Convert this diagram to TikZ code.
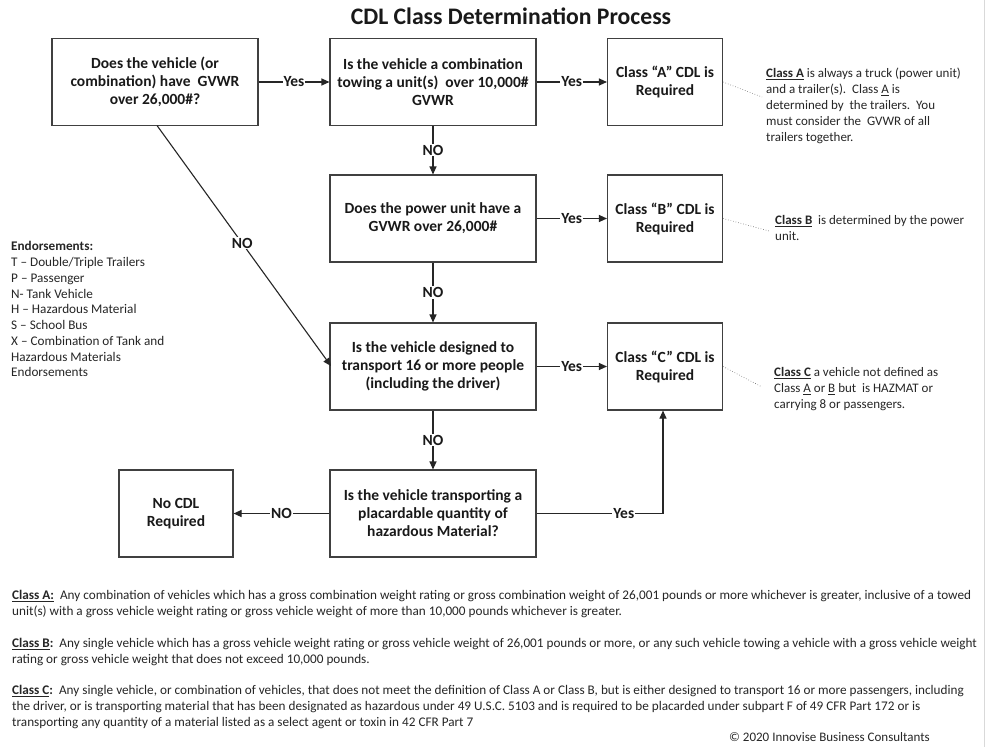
\documentclass[tikz,border=0pt]{standalone}
\usepackage{fontspec}
\setmainfont{Carlito}
\usetikzlibrary{arrows.meta}
\newcommand{\bxfont}{\bfseries\fontsize{15.5}{18}\selectfont}
\newcommand{\lbfont}{\bfseries\fontsize{15.5}{17}\selectfont}
\begin{document}
\begin{tikzpicture}[x=1pt,y=-1pt,
  box/.style={draw=black!75, line width=1.1pt, align=center, inner sep=0pt,
    font=\bxfont, text=black!90,
    minimum width=206pt, minimum height=87pt},
  sbox/.style={box, minimum width=115pt},
  conn/.style={line width=1.1pt, draw=black!85},
  arr/.style={conn, -{Triangle[length=8pt,width=7pt]}},
  lbl/.style={fill=white, inner sep=1pt, font=\lbfont, text=black!90},
  note/.style={align=left, anchor=north west, inner sep=0pt, font=\fontsize{13}{16}\selectfont, text=black!85},
  dots/.style={dotted, draw=black!60, line width=0.6pt},
  para/.style={align=left, anchor=north west, inner sep=0pt, font=\fontsize{13.2}{16}\selectfont, text=black!85}
]
\useasboundingbox[fill=white] (0,0) rectangle (986,747);
\draw[black!15, line width=1pt] (984,0) -- (984,747);

\node[font=\bfseries\fontsize{23.7}{26}\selectfont, text=black!90] (title) at (511,16) {CDL Class Determination Process};

\node[box] (q1) at (155,82) {Does the vehicle (or\\combination) have\ \ GVWR\\over 26,000\#?};
\node[box] (q2) at (433,82) {Is the vehicle a combination\\towing a unit(s)\ \ over 10,000\#\\GVWR};
\node[sbox] (ca) at (665,82) {Class “A” CDL is\\Required};
\node[box] (q3) at (433,218.5) {Does the power unit have a\\GVWR over 26,000\#};
\node[sbox] (cb) at (665,218.5) {Class “B” CDL is\\Required};
\node[box] (q4) at (433,366.5) {Is the vehicle designed to\\transport 16 or more people\\(including the driver)};
\node[sbox] (cc) at (665,366.5) {Class “C” CDL is\\Required};
\node[box] (q5) at (433,513.5) {Is the vehicle transporting a\\placardable quantity of\\hazardous Material?};
\node[box, minimum width=114pt] (no) at (176,513.5) {No CDL\\Required};

\draw[arr] (q1) -- node[lbl] {Yes} (q2);
\draw[arr] (q2) -- node[lbl] {Yes} (ca);
\draw[arr] (q3) -- node[lbl] {Yes} (cb);
\draw[arr] (q4) -- node[lbl] {Yes} (cc);
\draw[arr] (q2) -- node[lbl] {NO} (q3);
\draw[arr] (q3) -- node[lbl] {NO} (q4);
\draw[arr] (q4) -- node[lbl] {NO} (q5);
\coordinate (d1) at (157,125.5);
\coordinate (d2) at (331,366);
\draw[arr] (d1) -- node[lbl, pos=0.49] {NO} (d2);
\draw[arr] (q5.west) -- node[lbl, pos=0.5] {NO} (no.east);
\coordinate (turn) at (663,513.5);
\draw[arr] (q5.east) -- node[lbl, pos=0.69] {Yes} (turn) -- (cc.south -| turn);

% annotations
\coordinate (na) at (762,97);
\coordinate (nb) at (769,231);
\coordinate (nc) at (762,387);
\draw[dots] (ca.east) -- (na);
\draw[dots] (cb.east) -- (nb);
\draw[dots] (cc.east) -- (nc);
\node[note] (ta) at (766,68) {\textbf{\underline{Class A}} is always a truck (power unit)\\and a trailer(s).\ \ Class \underline{A} is\\determined by\ \ the trailers.\ \ You\\must consider the\ \ GVWR of all\\trailers together.};
\node[note] (tb) at (775,215) {\textbf{\underline{Class B}}\ \ is determined by the power\\unit.};
\node[note] (tc) at (774,367) {\textbf{\underline{Class C}} a vehicle not defined as\\Class \underline{A} or \underline{B} but\ \ is HAZMAT or\\carrying 8 or passengers.};

\node[note, font=\fontsize{13.2}{15.75}\selectfont] (endo) at (11,241.5) {\textbf{Endorsements:}\\T – Double/Triple Trailers\\P – Passenger\\N- Tank Vehicle\\H – Hazardous Material\\S – School Bus\\X – Combination of Tank and\\Hazardous Materials\\Endorsements};

\node[para] (pa) at (12,590) {\textbf{\underline{Class A:}}\ \ Any combination of vehicles which has a gross combination weight rating or gross combination weight of 26,001 pounds or more whichever is greater, inclusive of a towed\\unit(s) with a gross vehicle weight rating or gross vehicle weight of more than 10,000 pounds whichever is greater.};
\node[para] (pb) at (12,638) {\textbf{\underline{Class B}:}\ \ Any single vehicle which has a gross vehicle weight rating or gross vehicle weight of 26,001 pounds or more, or any such vehicle towing a vehicle with a gross vehicle weight\\rating or gross vehicle weight that does not exceed 10,000 pounds.};
\node[para] (pc) at (12,685) {\textbf{\underline{Class C}:}\ \ Any single vehicle, or combination of vehicles, that does not meet the definition of Class A or Class B, but is either designed to transport 16 or more passengers, including\\the driver, or is transporting material that has been designated as hazardous under 49 U.S.C. 5103 and is required to be placarded under subpart F of 49 CFR Part 172 or is\\transporting any quantity of a material listed as a select agent or toxin in 42 CFR Part 7};
\node[anchor=east, inner sep=0pt, font=\fontsize{13}{14}\selectfont, text=black!85] (copy) at (930,737) {© 2020 Innovise Business Consultants};
\end{tikzpicture}
\end{document}
